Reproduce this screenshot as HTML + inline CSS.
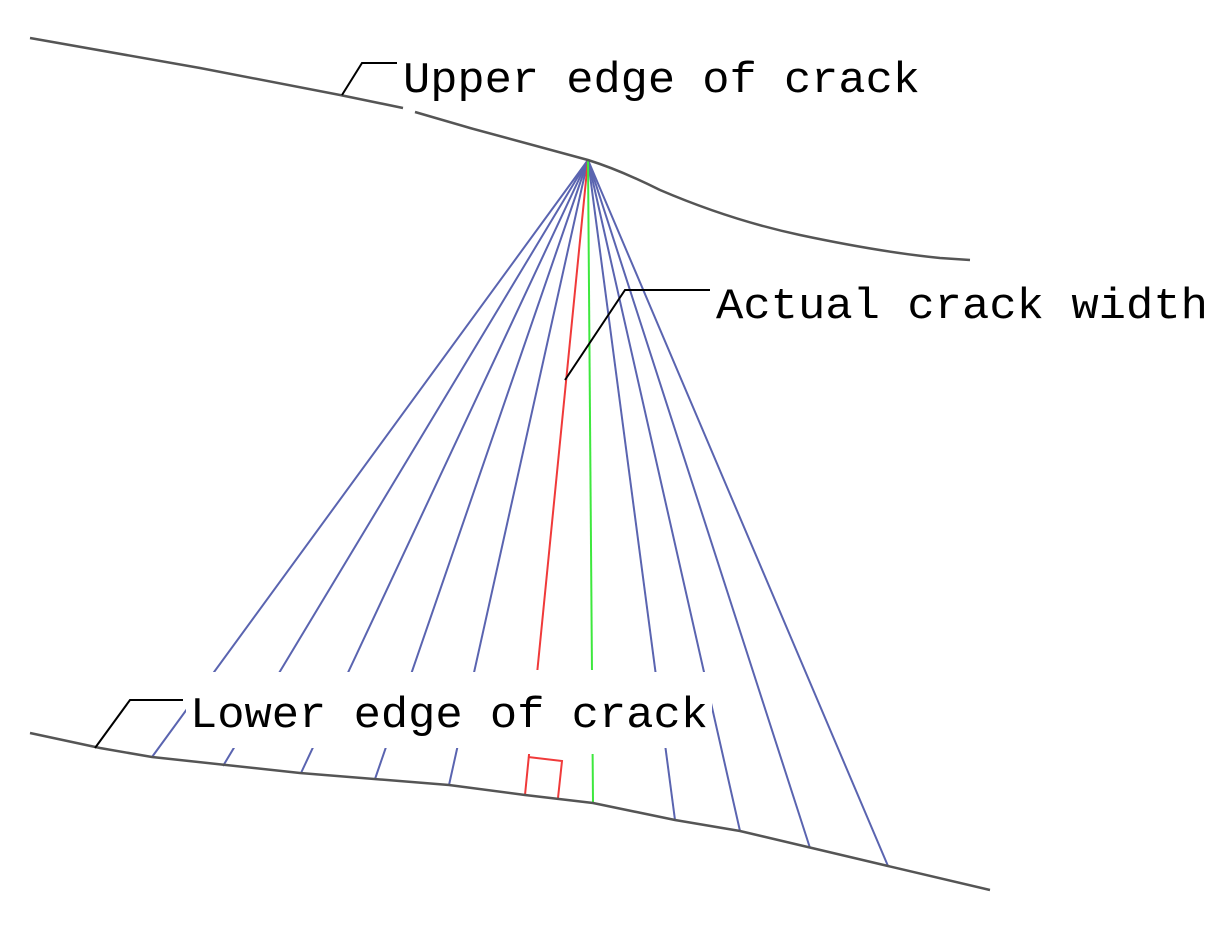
<!DOCTYPE html>
<html><head><style>html,body{margin:0;padding:0;background:#fff}</style></head>
<body>
<svg width="1221" height="920" xmlns="http://www.w3.org/2000/svg">
<rect width="1221" height="920" fill="#fff"/>
<g stroke="#5a64b0" stroke-width="2" fill="none">
<line x1="588" y1="160" x2="152" y2="757"/>
<line x1="588" y1="160" x2="223" y2="766"/>
<line x1="588" y1="160" x2="301" y2="773"/>
<line x1="588" y1="160" x2="375" y2="779"/>
<line x1="588" y1="160" x2="449" y2="785"/>
<line x1="588" y1="160" x2="675" y2="820"/>
<line x1="588" y1="160" x2="740" y2="831"/>
<line x1="588" y1="160" x2="810" y2="848"/>
<line x1="588" y1="160" x2="888" y2="866"/>
</g>
<line x1="588" y1="160" x2="525" y2="795" stroke="#f03a3a" stroke-width="2"/>
<line x1="588" y1="160" x2="593" y2="803" stroke="#3ee83e" stroke-width="2"/>
<rect x="186" y="672" width="526" height="76" fill="#fff"/>
<rect x="526" y="670" width="80" height="84" fill="#fff"/>
<polyline points="528,757 562,761 558,798" fill="none" stroke="#f03a3a" stroke-width="2"/>
<g stroke="#555" stroke-width="2.5" fill="none">
<polyline points="30,38 200,68 340,95 403,108"/>
<path d="M415,112 L470,128 L588,160 Q620,170 660,190 Q730,220 800,235 Q880,252 940,258 L970,260"/>
<polyline points="30,733 100,748 152,757 300,773 449,785 525,795 593,803 675,820 740,831 888,866 990,890"/>
</g>
<g stroke="#000" stroke-width="2" fill="none">
<polyline points="342,95 362,63 397,63"/>
<polyline points="565,380 625,290 710,290"/>
<polyline points="95,748 130,700 183,700"/>
</g>
<g font-family="Liberation Mono, monospace" font-size="44" fill="#000">
<text x="403" y="92" textLength="517" lengthAdjust="spacingAndGlyphs">Upper edge of crack</text>
<text x="716" y="318" textLength="492" lengthAdjust="spacingAndGlyphs">Actual crack width</text>
<text x="190" y="727" textLength="518" lengthAdjust="spacingAndGlyphs">Lower edge of crack</text>
</g>
</svg>
</body></html>
